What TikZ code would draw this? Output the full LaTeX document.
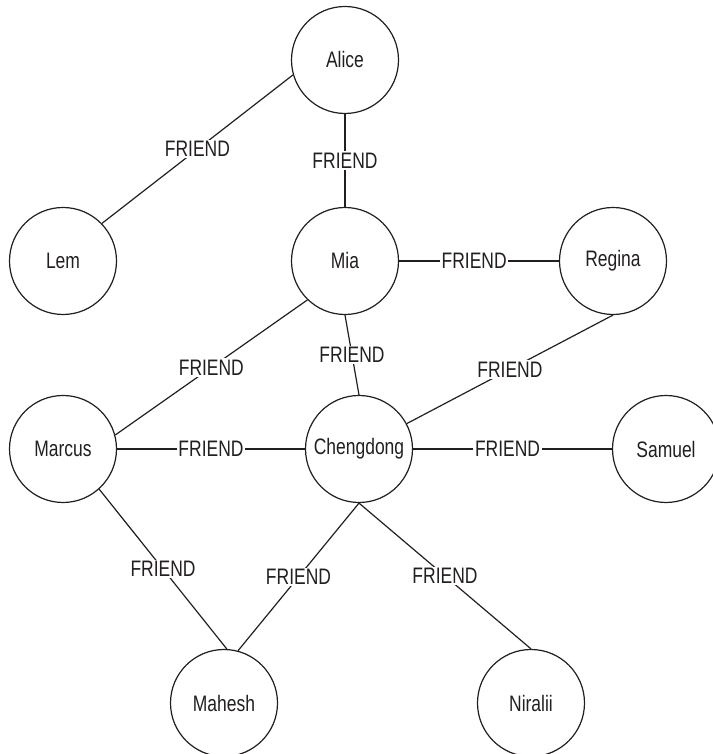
\documentclass[tikz,border=0pt]{standalone}
\usepackage{fontspec}
\setmainfont[FakeStretch=0.78]{Liberation Sans}
\definecolor{inkgray}{RGB}{35,31,32}
\begin{document}
\begin{tikzpicture}[x=0.5pt,y=0.5pt,line width=0.6pt,
  person/.style={draw=inkgray,circle,minimum size=53.5pt,inner sep=0pt,text=inkgray,font=\fontsize{11.2}{13}\selectfont},
  rel/.style={fill=white,inner sep=0.8pt,text=inkgray,font=\fontsize{11.2}{13}\selectfont}]

\useasboundingbox (0,0) rectangle (712,754);

\node[person] (Alice) at (345,694) {Alice};
\node[person] (Lem) at (63,493) {Lem};
\node[person] (Mia) at (345,493) {Mia};
\node[person] (Regina) at (613,493) {Regina};
\node[person] (Marcus) at (63,305) {Marcus};
\node[person] (Chengdong) at (359,305) {Chengdong};
\node[person] (Samuel) at (666,305) {Samuel};
\node[person] (Mahesh) at (224,51) {Mahesh};
\node[person] (Niralii) at (531,51) {Niralii};

\draw[inkgray] (Lem.44) -- node[rel] {FRIEND} (Alice.196);
\draw[inkgray] (Alice.south) -- node[rel] {FRIEND} (Mia.north);
\draw[inkgray] (Mia.east) -- node[rel,pos=0.47] {FRIEND} (Regina.west);
\draw[inkgray] (Mia.226) -- node[rel] {FRIEND} (Marcus.15);
\draw[inkgray] (Mia.south) -- node[rel] {FRIEND} (Chengdong.north);
\draw[inkgray] (Regina.south) -- node[rel] {FRIEND} (Chengdong.28);
\draw[inkgray] (Marcus.east) -- node[rel] {FRIEND} (Chengdong.west);
\draw[inkgray] (Chengdong.east) -- node[rel,pos=0.475] {FRIEND} (Samuel.west);
\draw[inkgray] (Marcus.312) -- node[rel] {FRIEND} (Mahesh.87);
\draw[inkgray] (Chengdong.south) -- node[rel] {FRIEND} (Mahesh.75);
\draw[inkgray] (Chengdong.south) -- node[rel] {FRIEND} (Niralii.north);
\end{tikzpicture}
\end{document}
